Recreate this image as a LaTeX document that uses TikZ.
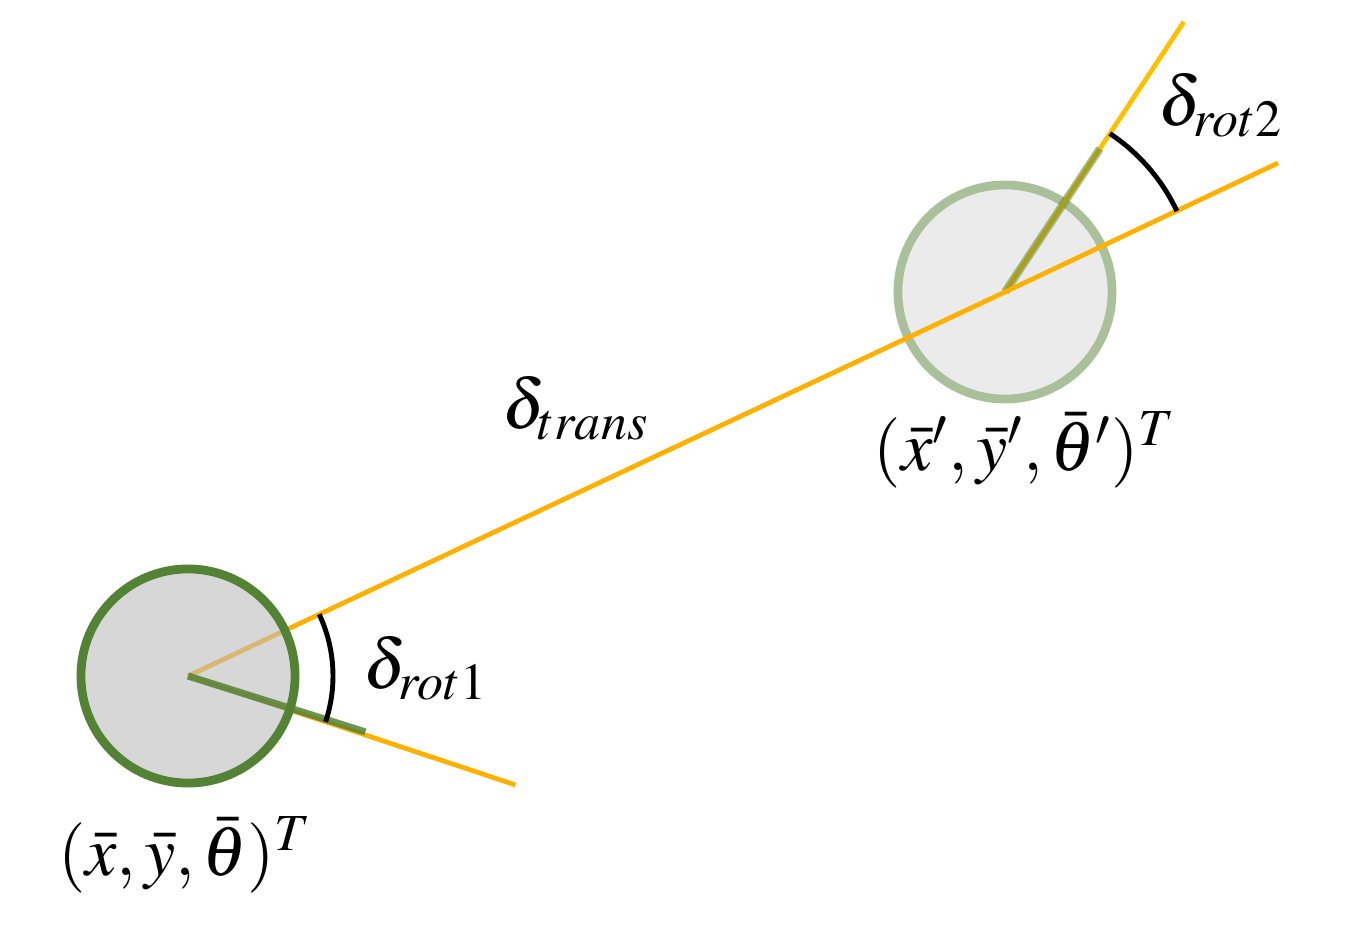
\documentclass[tikz,border=0pt]{standalone}
\usepackage{amsmath}
\usepackage{mathptmx}
\usetikzlibrary{positioning,calc}

\definecolor{pathorange}{HTML}{FFB000}
\definecolor{headyellow}{HTML}{FFC000}
\definecolor{posegreen}{HTML}{548235}
\definecolor{posegray}{HTML}{BDBDBD}

\begin{document}
\begin{tikzpicture}[x=0.01cm,y=0.01cm,
      robot/.style={circle,inner sep=0pt,minimum size=2.14cm,line width=2.5pt},
      ray/.style={draw=pathorange,line width=1.35pt},
      heading/.style={draw=posegreen,line width=2pt},
      turn/.style={draw=black,line width=1.4pt},
      lbl/.style={inner sep=0pt,font=\fontsize{20}{24}\selectfont}]
			\useasboundingbox (0,0) rectangle (1362,932);
			\coordinate (p1) at (188,256);
			\coordinate (p2) at (1005,640);
			\coordinate (e2) at (1278,769);
			\coordinate (h1) at ($(p1)+(-18.4:345)$);
			\coordinate (g1) at ($(p1)+(-17.5:186)$);
			\coordinate (h2) at ($(p2)+(56.5:324)$);
			\coordinate (g2) at ($(p2)+(56.5:172)$);
			% second pose
			\node[robot,draw=posegreen!50,fill=black!8] (r2) at (p2) {};
			\draw[ray,draw=headyellow] (r2.center) -- (h2);
			\draw[heading,line width=2.3pt,opacity=0.5] (r2.center) -- (g2);
			% path between the poses
			\draw[ray] (p1) -- (r2.center) -- (e2);
			\draw[ray] (p1) -- (h1);
			% first pose
			\node[robot,draw=posegreen,fill=posegray,fill opacity=0.6] (r1) at (p1) {};
			\draw[heading,opacity=0.85] (r1.center) -- (g1);
			% angles
			\draw[turn] ($(r1.center)+(-18.4:145)$) arc[start angle=-18.4,end angle=25.2,radius=145];
			\draw[turn] ($(r2.center)+(25.2:190)$) arc[start angle=25.2,end angle=56.5,radius=190];
			\node[lbl] (rot1) at (426,264) {$\delta_{rot1}$};
			\node[lbl] (rot2) at (1221,827) {$\delta_{rot2}$};
			\node[lbl] (trans) at (576,524) {$\delta_{trans}$};
			\node[lbl] (pose1) at (185,77) {$(\bar{x},\bar{y},\bar{\theta})^T$};
			\node[lbl] (pose2) at (1025,482) {$(\bar{x}',\bar{y}',\bar{\theta}')^T$};
		\end{tikzpicture}
\end{document}
